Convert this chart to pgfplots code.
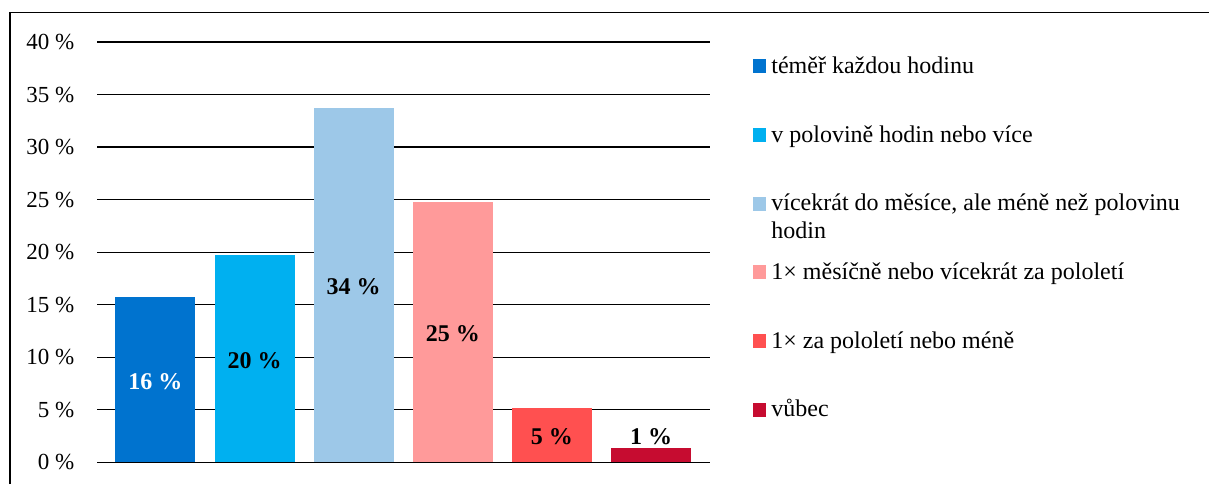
\documentclass[border=0pt]{standalone}
\usepackage{fontspec}
\setmainfont{Liberation Serif}
\usepackage{pgfplots}
\pgfplotsset{compat=1.18}
\definecolor{c1}{HTML}{0073CF}
\definecolor{c2}{HTML}{00B0F0}
\definecolor{c3}{HTML}{9DC8E8}
\definecolor{c4}{HTML}{FF9A9A}
\definecolor{c5}{HTML}{FF5050}
\definecolor{c6}{HTML}{C60C30}
\begin{document}
\begin{tikzpicture}
\useasboundingbox (0,0) rectangle (604.5pt,242pt);
\draw[line width=0.65pt] (5pt,0) -- (5pt,235.85pt) -- (604.5pt,235.85pt);
\begin{axis}[
  at={(48.65pt,10.85pt)}, anchor=south west,
  scale only axis, width=306.35pt, height=210.15pt,
  xmin=-0.587, xmax=5.595, ymin=0, ymax=40,
  ybar, bar width=40pt,
  xtick=\empty,
  ytick={0,5,10,15,20,25,30,35,40},
  yticklabels={0~\%,5~\%,10~\%,15~\%,20~\%,25~\%,30~\%,35~\%,40~\%},
  yticklabel style={font=\fontsize{11.5}{13}\selectfont, inner sep=0pt, anchor=east, xshift=-11.3pt},
  major tick length=0pt, tick style={draw=none},
  axis line style={draw=none},
  ymajorgrids, grid style={black, line width=0.65pt},
  legend image code/.code={\fill[#1] (0pt,0pt) rectangle (6.7pt,7pt);},
  legend style={at={(axis description cs:1.0702,0.9684)}, anchor=north west,
    draw=none, fill=none, inner sep=0pt, outer sep=0pt,
    row sep=22.35pt, column sep=2.5pt,
    font=\fontsize{12}{13.8}\selectfont,
    cells={anchor=base west},
    nodes={inner sep=0pt, text height=9pt, text depth=3pt}},
]
\addplot[fill=c1, draw=none, bar shift=0pt] coordinates {(0,15.7)};
\addlegendentry{téměř každou hodinu}
\addplot[fill=c2, draw=none, bar shift=0pt] coordinates {(1,19.7)};
\addlegendentry{v polovině hodin nebo více}
\addplot[fill=c3, draw=none, bar shift=0pt] coordinates {(2,33.7)};
\addlegendentry{\begin{tabular}[t]{@{}l@{}}vícekrát do měsíce, ale méně než polovinu\\hodin\end{tabular}}
\addplot[fill=c4, draw=none, bar shift=0pt] coordinates {(3,24.8)};
\addlegendentry{1× měsíčně nebo vícekrát za pololetí}
\addplot[fill=c5, draw=none, bar shift=0pt] coordinates {(4,5.2)};
\addlegendentry{1× za pololetí nebo méně}
\addplot[fill=c6, draw=none, bar shift=0pt] coordinates {(5,1.4)};
\addlegendentry{vůbec}
% bar labels
\addplot[sharp plot, draw=none, forget plot, bar shift=0pt, point meta=explicit symbolic,
  nodes near coords,
  every node near coord/.append style={anchor=center, text=white, font=\bfseries\fontsize{12}{14}\selectfont}]
  coordinates {(0,7.67) [16~\%]};
\addplot[sharp plot, draw=none, forget plot, bar shift=0pt, point meta=explicit symbolic,
  nodes near coords,
  every node near coord/.append style={anchor=center, text=black, font=\bfseries\fontsize{12}{14}\selectfont}]
  coordinates {(1,9.64) [20~\%] (2,16.7) [34~\%] (3,12.27) [25~\%] (4,2.4) [5~\%] (5,2.4) [1~\%]};
\end{axis}
\end{tikzpicture}
\end{document}
